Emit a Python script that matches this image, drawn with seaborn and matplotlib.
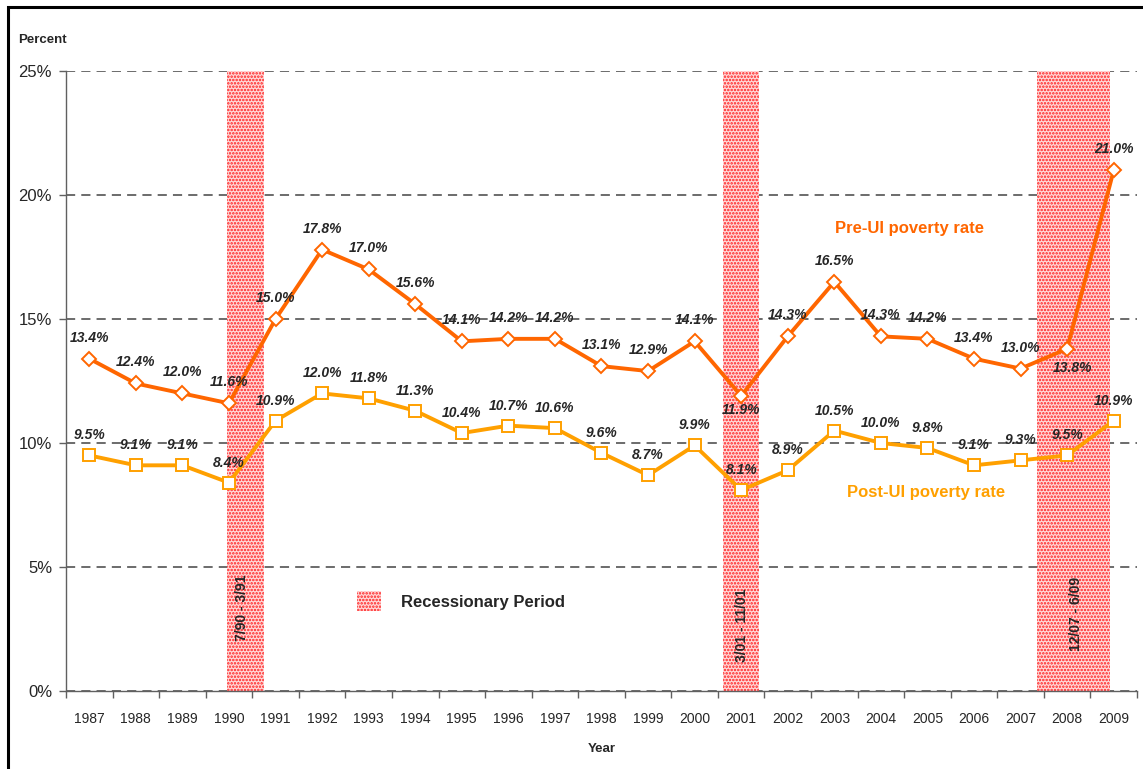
import numpy as np
import pandas as pd
import seaborn as sns
import matplotlib.pyplot as plt
from matplotlib.patches import Patch, Rectangle
from matplotlib.ticker import FixedLocator, FuncFormatter

years = ['1987', '1988', '1989', '1990', '1991', '1992', '1993', '1994', '1995', '1996', '1997', '1998',
         '1999', '2000', '2001', '2002', '2003', '2004', '2005', '2006', '2007', '2008', '2009']
pre_ui = [13.4, 12.4, 12.0, 11.6, 15.0, 17.8, 17.0, 15.6, 14.1, 14.2, 14.2, 13.1,
          12.9, 14.1, 11.9, 14.3, 16.5, 14.3, 14.2, 13.4, 13.0, 13.8, 21.0]
post_ui = [9.5, 9.1, 9.1, 8.4, 10.9, 12.0, 11.8, 11.3, 10.4, 10.7, 10.6, 9.6,
           8.7, 9.9, 8.1, 8.9, 10.5, 10.0, 9.8, 9.1, 9.3, 9.5, 10.9]
# recession spans, in category positions (year index)
recessions = [(2.95, 3.75), (13.61, 14.38), (20.36, 21.92)]
recession_labels = ['7/90 - 3/91', '3/01 - 11/01', '12/07 - 6/09']
yticks = [0, 5, 10, 15, 20, 25]

df = pd.DataFrame({'pos': np.arange(len(years)), 'year': years, 'pre': pre_ui, 'post': post_ui})

PRE_C = '#FF6600'
POST_C = '#FFA000'
BAND_FC = '#FFD9D9'
BAND_HC = '#FF1E1E'

sns.set_style('white')
plt.rcParams['font.family'] = ['Liberation Sans', 'DejaVu Sans']
plt.rcParams['hatch.linewidth'] = 1.2

fig = plt.figure(figsize=(11.43, 7.69), dpi=100)
ax = fig.add_axes([66 / 1143, 1 - 691 / 769, 1071 / 1143, 620 / 769])

# recession bands
for (a, b) in recessions:
    ax.axvspan(a, b, facecolor=BAND_FC, edgecolor=BAND_HC, hatch='.....', lw=0, zorder=2)
lab_pos = [(3.28, 3.35), (14.01, 2.65), (21.2, 3.1)]
for (x, y), lab in zip(lab_pos, recession_labels):
    ax.text(x, y, lab, rotation=90, ha='center', va='center', fontsize=10, fontweight='bold', zorder=6)

sns.lineplot(data=df, x='pos', y='pre', ax=ax, color=PRE_C, lw=2.8, marker='D', markersize=7,
             markerfacecolor='white', markeredgecolor=PRE_C, markeredgewidth=1.4, zorder=4)
sns.lineplot(data=df, x='pos', y='post', ax=ax, color=POST_C, lw=2.8, marker='s', markersize=8,
             markerfacecolor='white', markeredgecolor=POST_C, markeredgewidth=1.4, zorder=4)

# value labels, above by default
pre_off = {14: (0, -14), 21: (5, -19)}
for i, v in enumerate(pre_ui):
    dx, dy = pre_off.get(i, (0, 21))
    ax.annotate(f'{v:.1f}%', (i, v), xytext=(dx, dy), textcoords='offset pixels', ha='center', va='center',
                fontsize=10, fontweight='bold', fontstyle='italic', zorder=6)
for i, v in enumerate(post_ui):
    ax.annotate(f'{v:.1f}%', (i, v), xytext=(0, 20), textcoords='offset pixels', ha='center', va='center',
                fontsize=10, fontweight='bold', fontstyle='italic', zorder=6)

ax.text(17.62, 18.66, 'Pre-UI poverty rate', color=PRE_C, fontsize=12, fontweight='bold', ha='center', va='center')
ax.text(17.96, 8.0, 'Post-UI poverty rate', color=POST_C, fontsize=12, fontweight='bold', ha='center', va='center')

ax.set_xlim(-0.5, len(years) - 0.5)
ax.set_ylim(0, 25)
ax.set_xticks(df['pos'])
ax.set_xticklabels(years, fontsize=10)
ax.xaxis.set_minor_locator(FixedLocator(np.arange(-0.5, len(years), 1.0)))
ax.tick_params(axis='x', which='major', length=0, pad=15)
ax.tick_params(axis='x', which='minor', length=5, width=1, color='#606060', direction='out', bottom=True)
ax.set_yticks(yticks)
ax.yaxis.set_major_formatter(FuncFormatter(lambda v, p: f'{v:.0f}%'))
ax.tick_params(axis='y', length=5, width=1, color='#606060', direction='out', labelsize=12, pad=5, left=True)

ax.grid(axis='y', color='#444444', lw=1.1, linestyle=(0, (6, 4)), zorder=1)
ax.grid(axis='x', visible=False)
ax.set_axisbelow(True)
sns.despine(ax=ax, top=True, right=True)
for s in ['left', 'bottom']:
    ax.spines[s].set_color('#606060')
    ax.spines[s].set_linewidth(1.0)

ax.set_xlabel('Year', fontsize=9.5, fontweight='bold', labelpad=12)
ax.set_ylabel('')
fig.text(18 / 1143, 1 - 40 / 769, 'Percent', fontsize=9.5, fontweight='bold', ha='left', va='center')

handle = Patch(facecolor=BAND_FC, edgecolor=BAND_HC, hatch='.....', lw=0)
ax.legend([handle], ['Recessionary Period'], loc='center left', bbox_to_anchor=(0.2717, 0.145),
          frameon=False, borderpad=0, borderaxespad=0, handlelength=1.45, handleheight=1.4,
          handletextpad=1.2, prop={'size': 12, 'weight': 'bold'})

# outer border (top and left edges visible)
fig.patches.append(Rectangle((8 / 1143, -0.05), 1.1, (769 - 7) / 769 + 0.05, transform=fig.transFigure,
                             fill=False, lw=2.2, ec='black'))

fig.savefig('out.png', dpi=100)
